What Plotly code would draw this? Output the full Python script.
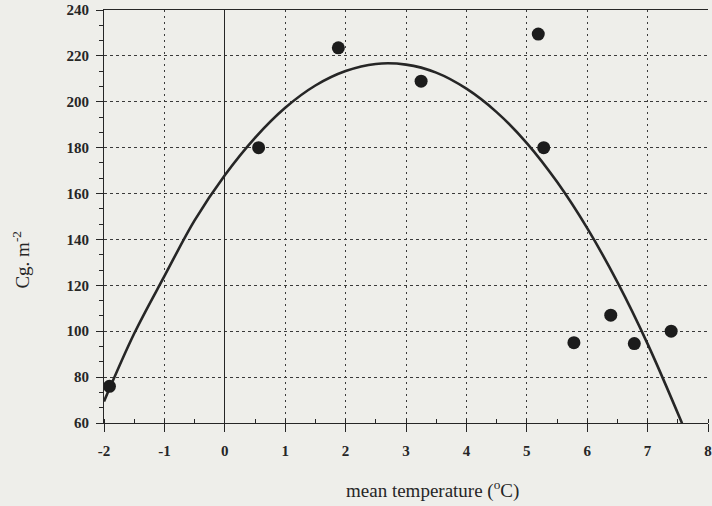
import plotly.graph_objects as go

# Observed data points (mean temperature, Cg m-2)
temp_obs = [-1.91, 0.56, 1.88, 3.25, 5.19, 5.28, 5.78, 6.39, 6.78, 7.39]
cg_obs = [76, 180, 223.5, 209, 229.5, 180, 95, 107, 94.6, 100]

# Fitted curve
curve_x = [-2, -1.5, -1, -0.5, 0, 0.5, 1, 1.5, 2, 2.5, 3, 3.5, 4, 4.5, 5, 5.5, 6, 6.5, 7, 7.57]
curve_y = [69.4, 99.0, 124.0, 148.3, 168.0, 184.3, 197.4, 207.1, 213.4, 216.5, 216.2, 212.7,
           205.7, 195.5, 182.0, 165.1, 144.9, 121.4, 94.5, 59.9]

x_ticks = [-2, -1, 0, 1, 2, 3, 4, 5, 6, 7, 8]
y_ticks = [60, 80, 100, 120, 140, 160, 180, 200, 220, 240]

ink = "#262626"
bg = "#eeeeea"
font = "Liberation Serif"

fig = go.Figure()
fig.add_trace(go.Scatter(x=curve_x, y=curve_y, mode="lines",
                         line=dict(color=ink, width=2.6, shape="spline"),
                         hoverinfo="skip", showlegend=False))
fig.add_trace(go.Scatter(x=temp_obs, y=cg_obs, mode="markers",
                         marker=dict(color="#1c1c1c", size=13),
                         showlegend=False))

fig.update_layout(
    width=712, height=506,
    margin=dict(l=104, r=0, t=10, b=83),
    paper_bgcolor=bg, plot_bgcolor=bg,
    font=dict(family=font, color=ink, size=15),
    xaxis=dict(
        range=[-2, 8], tickvals=x_ticks, ticktext=[str(v) for v in x_ticks],
        showline=True, linecolor=ink, linewidth=1.2, mirror=True,
        ticks="outside", ticklen=8, tickcolor=ink, tickwidth=1,
        showgrid=True, gridcolor="#3a3a3a", gridwidth=1, griddash="2px,4px",
        zeroline=True, zerolinecolor=ink, zerolinewidth=1.2,
        tickfont=dict(family=font, size=15, color=ink, weight="bold"),
        ticklabelstandoff=6, ticklabeloverflow="allow",
        minor=dict(dtick=0.5, tick0=-2, ticks="inside", ticklen=4, tickcolor=ink, showgrid=False),
    ),
    yaxis=dict(
        range=[60, 240], tickvals=y_ticks, ticktext=[str(v) for v in y_ticks],
        showline=True, linecolor=ink, linewidth=1.2,
        ticks="outside", ticklen=7, tickcolor=ink, tickwidth=1,
        showgrid=True, gridcolor="#3a3a3a", gridwidth=1, griddash="3px,3px",
        zeroline=False,
        tickfont=dict(family=font, size=15, color=ink, weight="bold"),
        ticklabelstandoff=4,
        minor=dict(dtick=20/3, tick0=60, ticks="outside", ticklen=4, tickcolor=ink, showgrid=False),
    ),
    annotations=[
        dict(text="mean temperature (<sup>o</sup>C)", xref="paper", yref="paper",
             x=(435 - 104) / 608, y=-(490 - 423) / 413, xanchor="center", yanchor="middle",
             showarrow=False, font=dict(family=font, size=19, color=ink)),
        dict(text="Cg. m<sup>-2</sup>", xref="paper", yref="paper",
             x=(20 - 104) / 608, y=(423 - 260) / 413, xanchor="center", yanchor="middle",
             textangle=-90, showarrow=False, font=dict(family=font, size=19, color=ink)),
    ],
)

fig.write_html(
    "out.html",
    config={"displayModeBar": False},
    post_script="document.body.style.margin='0';document.body.style.background='#eeeeea';",
)
